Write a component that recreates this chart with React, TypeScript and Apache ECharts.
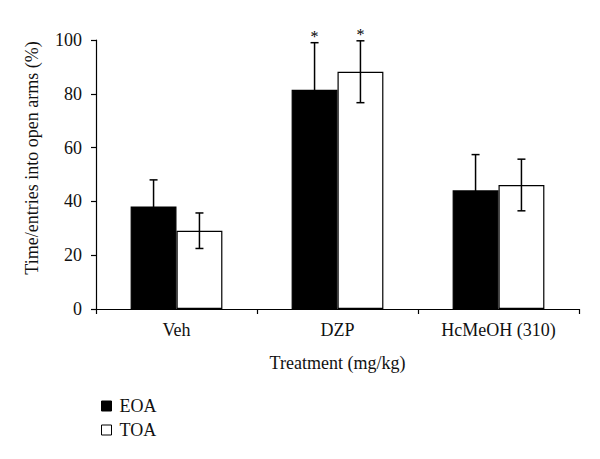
import React, { useEffect, useRef } from "react";
import * as echarts from "echarts";

const categories = ["Veh", "DZP", "HcMeOH (310)"];
const eoaValues = [38.1, 81.5, 44.1];
const toaValues = [29.1, 88.2, 46.1];
const eoaErrors = [9.9, 17.5, 13.3];
const toaErrors = [6.6, 11.5, 9.6];
const eoaSignificant = [0, 1, 0];
const toaSignificant = [0, 1, 0];
const yTicks = { min: 0, max: 100, interval: 20 };

const FONT = "Liberation Serif";
const GAP = 0.43;

function errorSeries(name: string, values: number[], errors: number[], sig: number[], side: number) {
  return {
    name: name + " error",
    type: "custom",
    z: 5,
    silent: true,
    data: values.map((v, i) => [i, v, errors[i], sig[i]]),
    renderItem: (params: any, api: any) => {
      const idx = api.value(0);
      const v = api.value(1);
      const e = api.value(2);
      const s = api.value(3);
      const top = api.coord([idx, v + e]);
      const bot = api.coord([idx, v - e]);
      const band = api.size([1, 0])[0];
      const bw = (band * (1 - GAP)) / 2;
      const cx = top[0] + (side * bw) / 2;
      const cap = 4;
      const st = { stroke: "#000", lineWidth: 1.5 };
      const children: any[] = [
        { type: "line", shape: { x1: cx, y1: top[1], x2: cx, y2: bot[1] }, style: st },
        { type: "line", shape: { x1: cx - cap, y1: top[1], x2: cx + cap, y2: top[1] }, style: st },
        { type: "line", shape: { x1: cx - cap, y1: bot[1], x2: cx + cap, y2: bot[1] }, style: st },
      ];
      if (s) {
        children.push({
          type: "text",
          x: cx,
          y: top[1] - 6,
          style: {
            text: "*",
            fill: "#000",
            font: `16px "${FONT}"`,
            textAlign: "center",
            textVerticalAlign: "middle",
          },
        });
      }
      return { type: "group", children };
    },
  };
}

export default function App() {
  const ref = useRef<HTMLDivElement>(null);
  useEffect(() => {
    if (!ref.current) return;
    const chart = echarts.init(ref.current, undefined, { renderer: "svg" });
    chart.setOption({
      animation: false,
      backgroundColor: "#ffffff",
      textStyle: { fontFamily: FONT, color: "#111" },
      grid: { left: 96, right: 21, top: 40, bottom: 150, containLabel: false },
      legend: {
        orient: "vertical",
        left: 96,
        top: 392,
        itemWidth: 10,
        itemHeight: 10,
        itemGap: 6,
        icon: "rect",
        textStyle: { fontFamily: FONT, fontSize: 18, color: "#111", lineHeight: 18, padding: [0, 0, 0, 3] },
        data: [
          { name: "EOA", itemStyle: { color: "#000", borderColor: "#000", borderWidth: 1 } },
          { name: "TOA", itemStyle: { color: "#fff", borderColor: "#000", borderWidth: 1 } },
        ],
      },
      xAxis: {
        type: "category",
        data: categories,
        name: "Treatment (mg/kg)",
        nameLocation: "middle",
        nameGap: 45,
        nameTextStyle: { fontFamily: FONT, fontSize: 18, color: "#111" },
        axisLine: { lineStyle: { color: "#000", width: 1.2 } },
        axisTick: { show: true, length: 5, lineStyle: { color: "#000", width: 1.2 } },
        axisLabel: { fontFamily: FONT, fontSize: 18, color: "#111", margin: 12 },
      },
      yAxis: {
        type: "value",
        min: yTicks.min,
        max: yTicks.max,
        interval: yTicks.interval,
        splitLine: { show: false },
        axisLine: { show: true, lineStyle: { color: "#000", width: 1.2 } },
        axisTick: { show: true, length: 5, lineStyle: { color: "#000", width: 1.2 } },
        axisLabel: { fontFamily: FONT, fontSize: 18, color: "#111", margin: 14 },
      },
      graphic: [
        {
          type: "text",
          x: 32,
          y: 158,
          rotation: Math.PI / 2,
          style: {
            text: "Time/entries into open arms (%)",
            font: `18px "${FONT}"`,
            fill: "#111",
            textAlign: "center",
            textVerticalAlign: "middle",
          },
        },
      ],
      series: [
        {
          name: "EOA",
          type: "bar",
          data: eoaValues,
          barGap: "0%",
          barCategoryGap: GAP * 100 + "%",
          itemStyle: { color: "#000", borderColor: "#000", borderWidth: 1.2 },
        },
        {
          name: "TOA",
          type: "bar",
          data: toaValues,
          barGap: "0%",
          barCategoryGap: GAP * 100 + "%",
          itemStyle: { color: "#fff", borderColor: "#000", borderWidth: 1.2 },
        },
        errorSeries("EOA", eoaValues, eoaErrors, eoaSignificant, -1),
        errorSeries("TOA", toaValues, toaErrors, toaSignificant, 1),
      ],
    });
    return () => chart.dispose();
  }, []);
  return (
    <div
      ref={ref}
      style={{ position: "fixed", left: 0, top: 0, width: 600, height: 459, background: "#fff" }}
    />
  );
}
